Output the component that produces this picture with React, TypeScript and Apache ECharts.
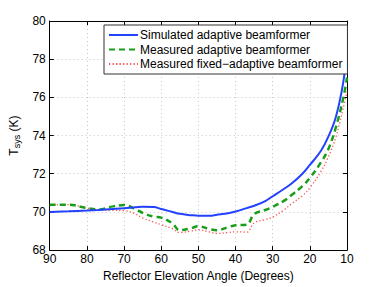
import React, { useEffect, useRef } from "react";
import * as echarts from "echarts";

const angles = [90, 85, 80, 77, 73, 70, 67, 65, 62, 60, 57, 55, 52, 50, 47, 45, 42, 40, 37, 35, 32, 30, 27, 25, 22, 20, 17, 15, 13, 11, 10];

const simulated = [70.0, 70.03, 70.07, 70.1, 70.15, 70.19, 70.24, 70.27, 70.26, 70.15, 70.0, 69.9, 69.83, 69.8, 69.8, 69.85, 69.93, 70.02, 70.2, 70.32, 70.57, 70.82, 71.2, 71.47, 72.0, 72.46, 73.2, 73.95, 74.97, 76.8, 78.56];

const measuredAdaptive = [70.38, 70.38, 70.2, 70.13, 70.29, 70.36, 70.15, 69.95, 69.75, 69.7, 69.4, 69.04, 69.15, 69.25, 69.1, 69.04, 69.2, 69.3, 69.33, 69.88, 70.1, 70.27, 70.58, 70.87, 71.35, 71.78, 72.6, 73.3, 74.43, 75.97, 77.04];

const measuredFixed = [70.38, 70.38, 70.2, 70.12, 70.08, 70.07, 69.9, 69.68, 69.47, 69.33, 69.13, 68.92, 69.0, 69.06, 68.95, 68.87, 68.92, 68.96, 68.94, 69.42, 69.6, 69.73, 70.1, 70.41, 70.85, 71.26, 72.12, 72.89, 73.91, 75.45, 76.3];

const seriesNames = [
  "Simulated adaptive beamformer",
  "Measured adaptive beamformer",
  "Measured fixed\u2212adaptive beamformer",
];

const xLabel = "Reflector Elevation Angle (Degrees)";

export default function App() {
  const ref = useRef<HTMLDivElement>(null);
  useEffect(() => {
    if (!ref.current) return;
    const chart = echarts.init(ref.current, null, { renderer: "svg" });
    const font = "Liberation Sans, Arial, Helvetica, sans-serif";
    const pair = (ys: number[]) => angles.map((a, i) => [a, ys[i]]);
    const gridLine = { show: true, lineStyle: { color: "#c8c8c8", type: [1, 3] as any, width: 1 } };
    chart.setOption({
      animation: false,
      backgroundColor: "#ffffff",
      textStyle: { fontFamily: font },
      grid: { left: 49, right: 35, top: 21, bottom: 32, containLabel: false },
      legend: {
        orient: "vertical",
        left: 104,
        top: 25,
        itemWidth: 29,
        itemHeight: 12,
        itemGap: 2.5,
        padding: [4, 5, 4, 4],
        borderColor: "#333",
        borderWidth: 1,
        backgroundColor: "#ffffff",
        itemStyle: { opacity: 0, borderWidth: 0 },
        textStyle: { fontFamily: font, fontSize: 12, color: "#000", padding: [0, 0, 0, -3] },
        data: seriesNames,
      },
      xAxis: [
        {
          type: "value",
          inverse: true,
          min: 10,
          max: 90,
          interval: 10,
          name: xLabel,
          nameLocation: "middle",
          nameGap: 17,
          nameTextStyle: { fontSize: 12, color: "#000", fontFamily: font },
          axisLine: { show: true, lineStyle: { color: "#000", width: 1 } },
          axisTick: { show: true, inside: true, length: 4, lineStyle: { color: "#000" } },
          axisLabel: { fontSize: 12, color: "#000", margin: 3, fontFamily: font },
          splitLine: gridLine,
        },
        {
          type: "value",
          inverse: true,
          position: "top",
          min: 10,
          max: 90,
          interval: 10,
          axisLine: { show: true, lineStyle: { color: "#000", width: 1 } },
          axisTick: { show: true, inside: true, length: 4, lineStyle: { color: "#000" } },
          axisLabel: { show: false },
          splitLine: { show: false },
        },
      ],
      yAxis: [
        {
          type: "value",
          min: 68,
          max: 80,
          interval: 2,
          name: "{m|T}{s|sys}{m| (K)}",
          nameLocation: "middle",
          nameGap: 27,
          nameRotate: 90,
          nameTextStyle: {
            rich: {
              m: { fontSize: 12, color: "#000", fontFamily: font },
              s: { fontSize: 9, color: "#000", fontFamily: font, verticalAlign: "bottom", padding: [6, 0, 0, 0] },
            },
          },
          axisLine: { show: true, lineStyle: { color: "#000", width: 1 } },
          axisTick: { show: true, inside: true, length: 4, lineStyle: { color: "#000" } },
          axisLabel: { fontSize: 12, color: "#000", margin: 4, fontFamily: font },
          splitLine: gridLine,
        },
        {
          type: "value",
          position: "right",
          min: 68,
          max: 80,
          interval: 2,
          axisLine: { show: true, lineStyle: { color: "#000", width: 1 } },
          axisTick: { show: true, inside: true, length: 4, lineStyle: { color: "#000" } },
          axisLabel: { show: false },
          splitLine: { show: false },
        },
      ],
      series: [
        {
          name: seriesNames[0],
          type: "line",
          data: pair(simulated),
          smooth: 0.4,
          symbol: "none",
          color: "#2242ff",
          lineStyle: { color: "#2242ff", width: 2 },
          z: 3,
        },
        {
          name: seriesNames[1],
          type: "line",
          data: pair(measuredAdaptive),
          smooth: 0.4,
          symbol: "none",
          color: "#1a9e1a",
          lineStyle: { color: "#1a9e1a", width: 2.5, type: [6, 4] },
          z: 2,
        },
        {
          name: seriesNames[2],
          type: "line",
          data: pair(measuredFixed),
          smooth: 0.4,
          symbol: "none",
          color: "#ff5555",
          lineStyle: { color: "#ff5555", width: 1.3, type: [1.3, 2.2] },
          z: 1,
        },
      ],
    });
    return () => chart.dispose();
  }, []);
  return <div ref={ref} style={{ width: 382, height: 287, position: "absolute", left: 0, top: 0 }} />;
}
